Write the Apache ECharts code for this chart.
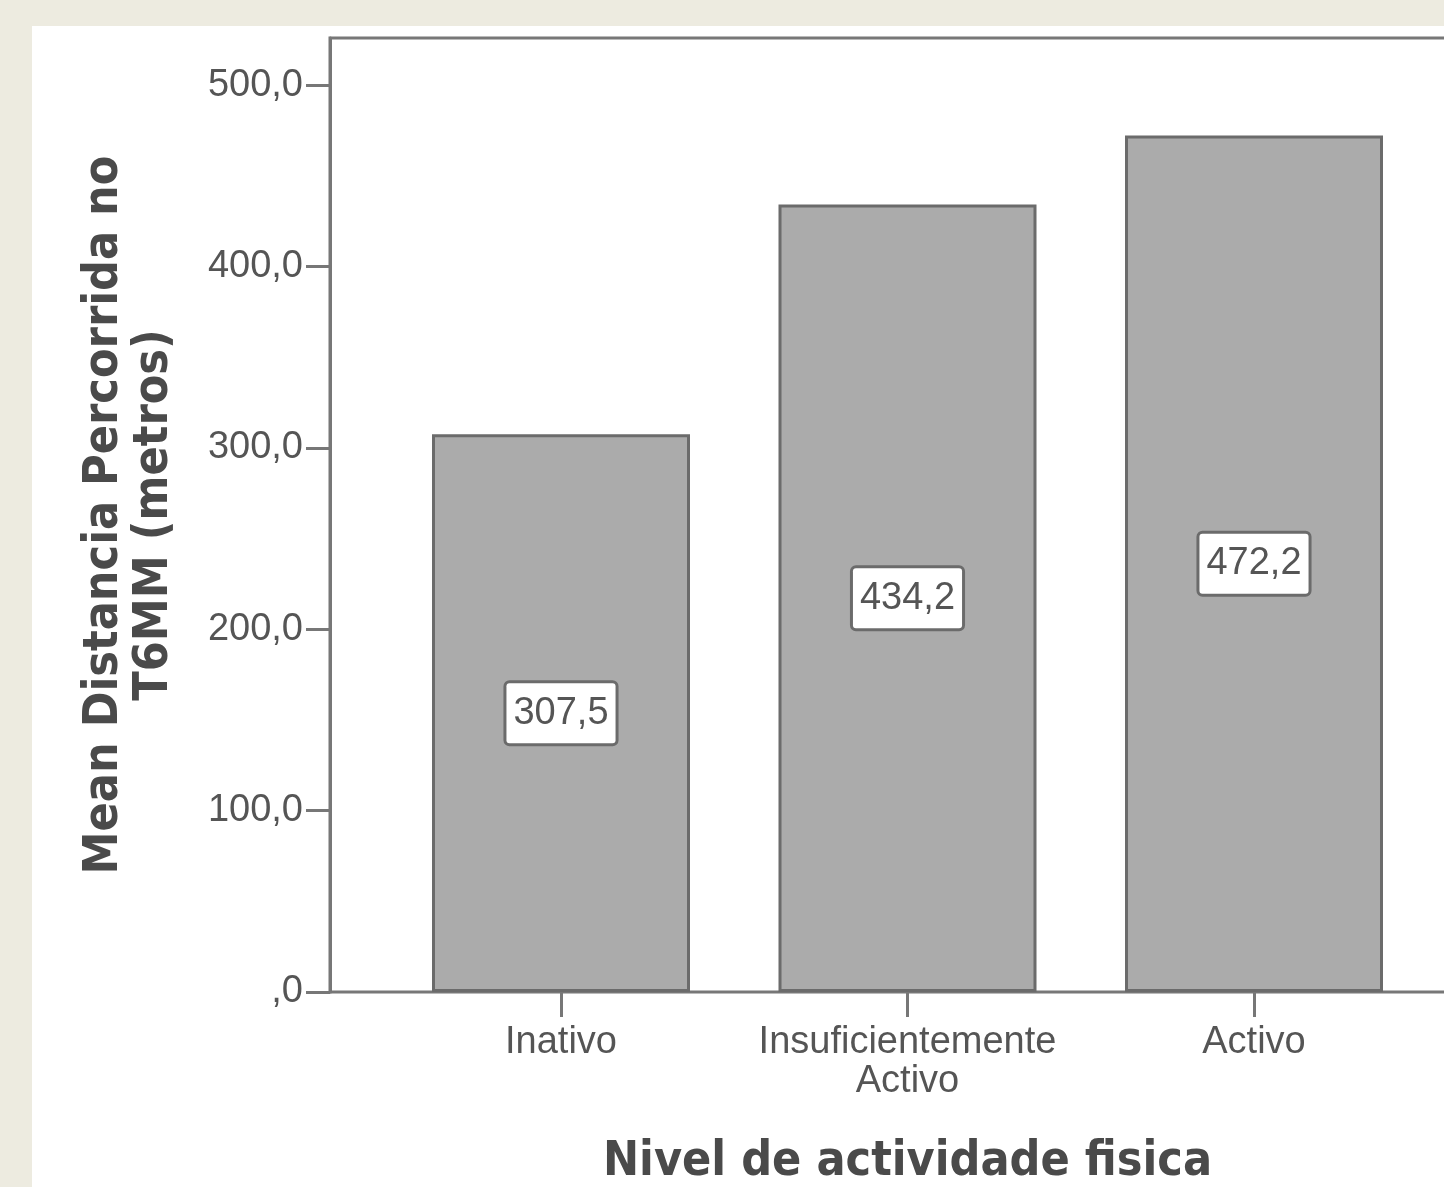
<!DOCTYPE html>
<html>
<head>
<meta charset="utf-8">
<script src="https://cdn.jsdelivr.net/npm/echarts@6/dist/echarts.min.js"></script>
<style>
html,body{margin:0;padding:0;background:#EDEBE0;width:1444px;height:1187px;overflow:hidden;}
#chart{position:absolute;left:32px;top:26px;width:1412px;height:1161px;background:#fff;}
</style>
</head>
<body>
<div id="chart"></div>
<script>
const categories = ['Inativo', 'Insuficientemente\nActivo', 'Activo'];
const meanValues = [307.5, 434.2, 472.2];
const yTicks = [0, 100, 200, 300, 400, 500];
const yTitle = 'Mean Distancia Percorrida no\nT6MM (metros)';
const xTitle = 'Nivel de actividade fisica';

const fmt = v => v === 0 ? ',0' : v.toFixed(1).replace('.', ',');
const tickFont = '"Liberation Sans Narrow", "Arial Narrow", "Liberation Sans", Arial, sans-serif';
const titleFont = '"DejaVu Sans Condensed", "DejaVu Sans", sans-serif';
const lineCol = '#777777';

const chart = echarts.init(document.getElementById('chart'));
chart.setOption({
  animation: false,
  grid: [
    {left: 355.75, width: 1039.5, top: 12, bottom: 195, containLabel: false, outerBoundsMode: 'none'},
    {left: 298, right: -20, top: 12, bottom: 195, show: true, borderColor: lineCol, borderWidth: 3, backgroundColor: 'transparent', containLabel: false, outerBoundsMode: 'none'}
  ],
  xAxis: [
    {
      type: 'category', gridIndex: 0, data: categories,
      axisLine: {show: false},
      axisTick: {show: true, interval: 0, alignWithLabel: true, length: 25, lineStyle: {color: lineCol, width: 3}},
      axisLabel: {interval: 0, hideOverlap: false, margin: 31, fontFamily: tickFont, fontSize: 38, color: '#555', lineHeight: 39},
      name: xTitle, nameLocation: 'middle', nameGap: 147,
      nameTextStyle: {fontFamily: titleFont, fontWeight: 'bold', fontSize: 48, color: '#4a4a4a'}
    },
    {type: 'value', gridIndex: 1, show: false, min: 0, max: 1}
  ],
  yAxis: [
    {type: 'value', gridIndex: 0, min: 0, max: 526, show: false},
    {
      type: 'value', gridIndex: 1, min: 0, max: 526,
      axisLine: {show: true, lineStyle: {color: lineCol, width: 3}},
      axisTick: {show: true, length: 24, customValues: yTicks, lineStyle: {color: lineCol, width: 3}},
      splitLine: {show: false},
      axisLabel: {customValues: yTicks, margin: 27, padding: [8, 0, 0, 0], fontFamily: tickFont, fontSize: 38, color: '#555', formatter: v => fmt(v)},
      name: yTitle, nameLocation: 'middle', nameGap: 150, nameRotate: 90,
      nameTextStyle: {fontFamily: titleFont, fontWeight: 'bold', fontSize: 48, color: '#4a4a4a', lineHeight: 50}
    }
  ],
  series: [{
    type: 'bar', xAxisIndex: 0, yAxisIndex: 0, data: meanValues, barWidth: 258,
    itemStyle: {color: '#ABABAB', borderColor: '#6b6b6b', borderWidth: 3},
    label: {
      show: true, position: 'inside', formatter: p => fmt(p.value),
      fontFamily: tickFont, fontSize: 38, color: '#555',
      backgroundColor: '#fff', borderColor: '#6b6b6b', borderWidth: 3, borderRadius: 3,
      padding: [13, 7, 9, 7]
    }
  }]
});
</script>
</body>
</html>
